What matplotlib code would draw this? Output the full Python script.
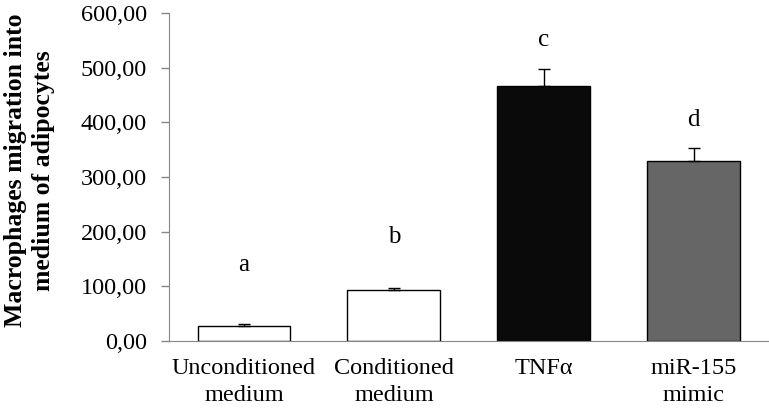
import matplotlib.pyplot as plt
from matplotlib.ticker import FuncFormatter

categories = ['Unconditioned\nmedium', 'Conditioned\nmedium', 'TNFα', 'miR-155\nmimic']
values = [28, 93, 467, 329]
errors = [3, 4, 30, 24]
letters = ['a', 'b', 'c', 'd']
letter_y = [139, 190, 550, 404]
colors = ['white', 'white', '#0a0a0a', '#666666']

plt.rcParams['font.family'] = ['Liberation Serif', 'DejaVu Serif']

fig = plt.figure(figsize=(7.69, 4.11), dpi=100)
ax = fig.add_axes([0.2198, 0.1703, 0.78, 0.7981])

x = range(len(categories))
ax.bar(x, values, width=0.62, color=colors, edgecolor='black', linewidth=1)
ax.errorbar(x, values, yerr=[[0] * len(errors), errors], fmt='none',
            ecolor='black', elinewidth=1, capsize=4, capthick=1)

for i, (lab, ly) in enumerate(zip(letters, letter_y)):
    ax.text(i, ly, lab, ha='center', va='center', fontsize=18)

ax.set_xlim(-0.5, 3.5)
ax.set_ylim(0, 600)
ax.set_yticks(range(0, 601, 100))
ax.yaxis.set_major_formatter(FuncFormatter(lambda v, p: f'{v:.2f}'.replace('.', ',')))
ax.set_xticks(list(x))
ax.set_xticklabels(categories, fontsize=17.5, linespacing=1.4)
ax.tick_params(axis='x', length=0, pad=12)
ax.tick_params(axis='y', labelsize=17.5, length=6, color='#868686', width=1, pad=10)
for s in ['top', 'right']:
    ax.spines[s].set_visible(False)
for s in ['left', 'bottom']:
    ax.spines[s].set_color('#868686')

ax.set_ylabel('Macrophages migration into\nmedium of adipocytes', fontsize=18.5,
              fontweight='bold', linespacing=1.3)
ax.yaxis.set_label_coords(-0.19, 0.52)

fig.savefig('out.png', dpi=100)
